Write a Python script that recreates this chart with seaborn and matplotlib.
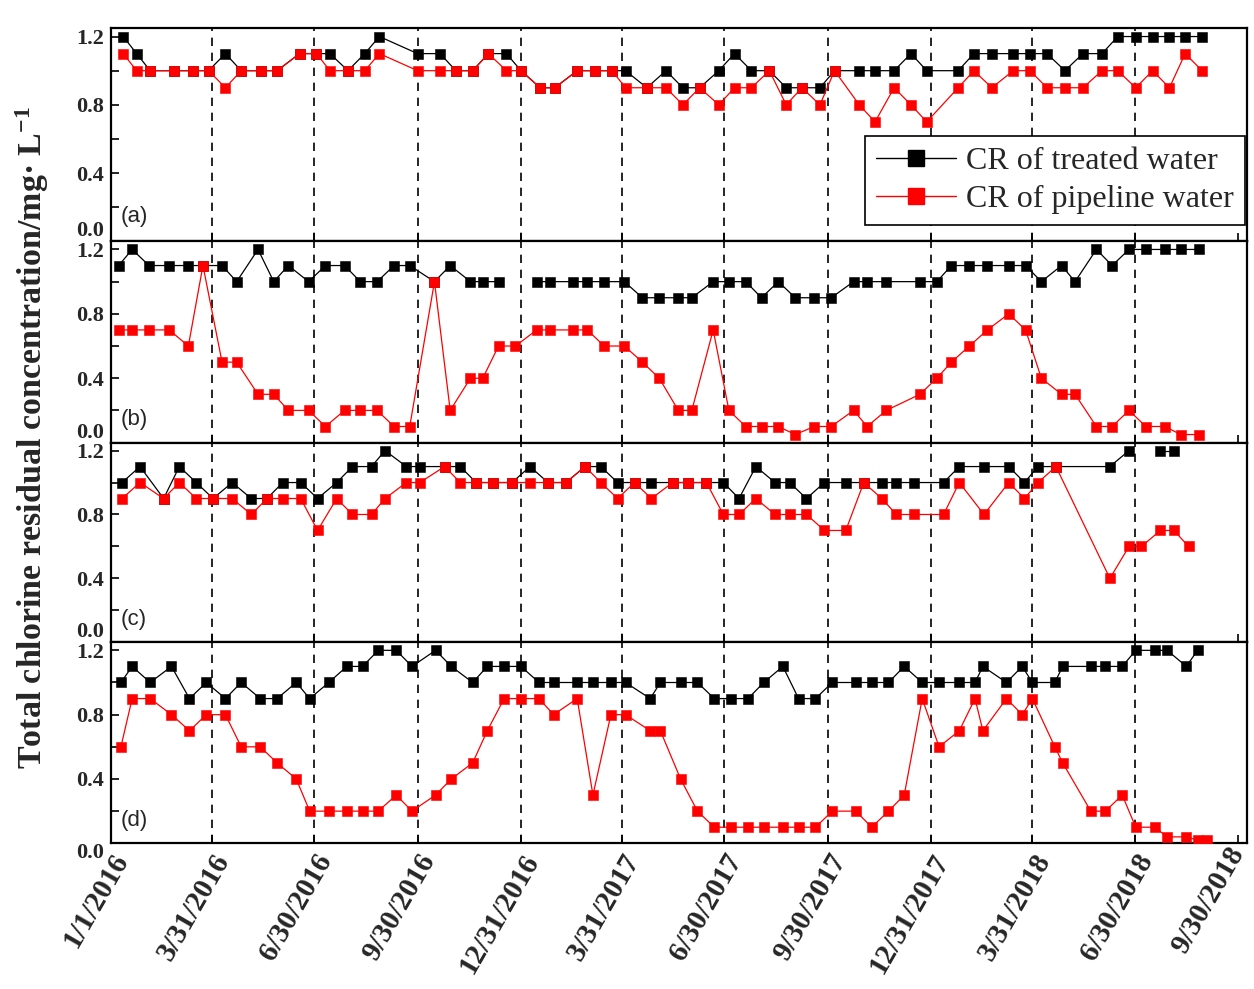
import numpy as np
import pandas as pd
import matplotlib
matplotlib.use('Agg')
import matplotlib.pyplot as plt
from matplotlib.lines import Line2D
from matplotlib.ticker import FormatStrFormatter
import seaborn as sns

# ---------------- data (days since 1/1/2016, values in mg/L) ----------------
start_date = '2016-01-01'
series_names = ['CR of treated water', 'CR of pipeline water']
panel_tags = ['(a)', '(b)', '(c)', '(d)']
tick_labels = ['1/1/2016', '3/31/2016', '6/30/2016', '9/30/2016', '12/31/2016',
               '3/31/2017', '6/30/2017', '9/30/2017', '12/31/2017', '3/31/2018',
               '6/30/2018', '9/30/2018']
nan = np.nan

days_a = [11, 23, 35, 56, 73, 87, 102, 116, 134, 148, 168, 183, 195, 211, 226, 239, 273, 293, 307, 322,
          336, 352, 365, 382, 395, 415, 431, 446, 458, 477, 494, 509, 524, 541, 555, 570, 586, 601, 615, 631,
          644, 666, 680, 697, 712, 726, 754, 768, 784, 803, 818, 833, 849, 865, 882, 896, 912, 927, 942, 956, 971]
treated_a = [1.2, 1.1, 1.0, 1.0, 1.0, 1.0, 1.1, 1.0, 1.0, 1.0, 1.1, 1.1, 1.1, 1.0, 1.1, 1.2, 1.1, 1.1, 1.0, 1.0,
             1.1, 1.1, 1.0, 0.9, 0.9, 1.0, 1.0, 1.0, 1.0, 0.9, 1.0, 0.9, 0.9, 1.0, 1.1, 1.0, 1.0, 0.9, 0.9, 0.9,
             1.0, 1.0, 1.0, 1.0, 1.1, 1.0, 1.0, 1.1, 1.1, 1.1, 1.1, 1.1, 1.0, 1.1, 1.1, 1.2, 1.2, 1.2, 1.2, 1.2, 1.2]
pipe_a = [1.1, 1.0, 1.0, 1.0, 1.0, 1.0, 0.9, 1.0, 1.0, 1.0, 1.1, 1.1, 1.0, 1.0, 1.0, 1.1, 1.0, 1.0, 1.0, 1.0,
          1.1, 1.0, 1.0, 0.9, 0.9, 1.0, 1.0, 1.0, 0.9, 0.9, 0.9, 0.8, 0.9, 0.8, 0.9, 0.9, 1.0, 0.8, 0.9, 0.8,
          1.0, 0.8, 0.7, 0.9, 0.8, 0.7, 0.9, 1.0, 0.9, 1.0, 1.0, 0.9, 0.9, 0.9, 1.0, 1.0, 0.9, 1.0, 0.9, 1.1, 1.0]

days_b = [7, 19, 34, 52, 69, 82, 99, 112, 131, 145, 158, 176, 191, 208, 222, 237, 252, 266, 288, 302,
          320, 331, 345, 360, 379, 391, 411, 424, 439, 457, 473, 488, 505, 517, 536, 550, 565, 579, 594, 609,
          626, 641, 661, 673, 690, 720, 735, 748, 764, 780, 799, 814, 828, 846, 858, 877, 891, 906, 921, 938,
          952, 968]
treated_b = [1.1, 1.2, 1.1, 1.1, 1.1, 1.1, 1.1, 1.0, 1.2, 1.0, 1.1, 1.0, 1.1, 1.1, 1.0, 1.0, 1.1, 1.1, 1.0, 1.1,
             1.0, 1.0, 1.0, nan, 1.0, 1.0, 1.0, 1.0, 1.0, 1.0, 0.9, 0.9, 0.9, 0.9, 1.0, 1.0, 1.0, 0.9, 1.0, 0.9,
             0.9, 0.9, 1.0, 1.0, 1.0, 1.0, 1.0, 1.1, 1.1, 1.1, 1.1, 1.1, 1.0, 1.1, 1.0, 1.2, 1.1, 1.2, 1.2, 1.2,
             1.2, 1.2]
pipe_b = [0.7, 0.7, 0.7, 0.7, 0.6, 1.1, 0.5, 0.5, 0.3, 0.3, 0.2, 0.2, 0.1, 0.2, 0.2, 0.2, 0.1, 0.1, 1.0, 0.2,
          0.4, 0.4, 0.6, 0.6, 0.7, 0.7, 0.7, 0.7, 0.6, 0.6, 0.5, 0.4, 0.2, 0.2, 0.7, 0.2, 0.1, 0.1, 0.1, 0.05,
          0.1, 0.1, 0.2, 0.1, 0.2, 0.3, 0.4, 0.5, 0.6, 0.7, 0.8, 0.7, 0.4, 0.3, 0.3, 0.1, 0.1, 0.2, 0.1, 0.1,
          0.05, 0.05]

days_c = [10, 26, 47, 61, 76, 91, 108, 125, 139, 153, 169, 184, 201, 215, 232, 244, 263, 275, 297, 311,
          325, 340, 357, 373, 389, 405, 422, 436, 451, 466, 481, 500, 514, 530, 545, 559, 574, 591, 604, 619,
          635, 654, 670, 686, 699, 715, 741, 755, 777, 799, 813, 825, 841, 889, 906, 917, 934, 946, 959]
treated_c = [1.0, 1.1, 0.9, 1.1, 1.0, 0.9, 1.0, 0.9, 0.9, 1.0, 1.0, 0.9, 1.0, 1.1, 1.1, 1.2, 1.1, 1.1, 1.1, 1.1,
             1.0, 1.0, 1.0, 1.1, 1.0, 1.0, 1.1, 1.1, 1.0, 1.0, 1.0, 1.0, 1.0, 1.0, 1.0, 0.9, 1.1, 1.0, 1.0, 0.9,
             1.0, 1.0, 1.0, 1.0, 1.0, 1.0, 1.0, 1.1, 1.1, 1.1, 1.0, 1.1, 1.1, 1.1, 1.2, nan, 1.2, 1.2, nan]
pipe_c = [0.9, 1.0, 0.9, 1.0, 0.9, 0.9, 0.9, 0.8, 0.9, 0.9, 0.9, 0.7, 0.9, 0.8, 0.8, 0.9, 1.0, 1.0, 1.1, 1.0,
          1.0, 1.0, 1.0, 1.0, 1.0, 1.0, 1.1, 1.0, 0.9, 1.0, 0.9, 1.0, 1.0, 1.0, 0.8, 0.8, 0.9, 0.8, 0.8, 0.8,
          0.7, 0.7, 1.0, 0.9, 0.8, 0.8, 0.8, 1.0, 0.8, 1.0, 0.9, 1.0, 1.1, 0.4, 0.6, 0.6, 0.7, 0.7, 0.6]

days_d = [9, 19, 35, 54, 70, 85, 102, 116, 133, 148, 165, 177, 194, 210, 224, 238, 254, 268, 289, 303,
          322, 335, 350, 365, 381, 394, 415, 429, 445, 458, 480, 489, 507, 522, 537, 552, 567, 581, 598, 612,
          627, 642, 663, 677, 692, 706, 722, 737, 755, 769, 776, 797, 811, 820, 840, 847, 872, 885, 900, 912,
          929, 940, 957, 967, 975]
treated_d = [1.0, 1.1, 1.0, 1.1, 0.9, 1.0, 0.9, 1.0, 0.9, 0.9, 1.0, 0.9, 1.0, 1.1, 1.1, 1.2, 1.2, 1.1, 1.2, 1.1,
             1.0, 1.1, 1.1, 1.1, 1.0, 1.0, 1.0, 1.0, 1.0, 1.0, 0.9, 1.0, 1.0, 1.0, 0.9, 0.9, 0.9, 1.0, 1.1, 0.9,
             0.9, 1.0, 1.0, 1.0, 1.0, 1.1, 1.0, 1.0, 1.0, 1.0, 1.1, 1.0, 1.1, 1.0, 1.0, 1.1, 1.1, 1.1, 1.1, 1.2,
             1.2, 1.2, 1.1, 1.2, nan]
pipe_d = [0.6, 0.9, 0.9, 0.8, 0.7, 0.8, 0.8, 0.6, 0.6, 0.5, 0.4, 0.2, 0.2, 0.2, 0.2, 0.2, 0.3, 0.2, 0.3, 0.4,
          0.5, 0.7, 0.9, 0.9, 0.9, 0.8, 0.9, 0.3, 0.8, 0.8, 0.7, 0.7, 0.4, 0.2, 0.1, 0.1, 0.1, 0.1, 0.1, 0.1,
          0.1, 0.2, 0.2, 0.1, 0.2, 0.3, 0.9, 0.6, 0.7, 0.9, 0.7, 0.9, 0.8, 0.9, 0.6, 0.5, 0.2, 0.2, 0.3, 0.1,
          0.1, 0.04, 0.04, 0.02, 0.02]

panels = [(days_a, treated_a, pipe_a), (days_b, treated_b, pipe_b),
          (days_c, treated_c, pipe_c), (days_d, treated_d, pipe_d)]

# ---------------- style ----------------
sns.set_theme(style='white')
plt.rcParams['font.family'] = ['Liberation Serif', 'DejaVu Sans']
plt.rcParams['mathtext.fontset'] = 'custom'
plt.rcParams['mathtext.rm'] = 'Liberation Serif:bold'
plt.rcParams['mathtext.it'] = 'Liberation Serif:bold'
plt.rcParams['mathtext.bf'] = 'Liberation Serif:bold'
plt.rcParams['mathtext.default'] = 'rm'

W, H = 1254, 989
fig = plt.figure(figsize=(W / 100, H / 100), dpi=100)
left_px, right_px = 110.8, 1247.0
rows = [(28.0, 241.4), (241.4, 442.6), (442.6, 642.3), (642.3, 843.3)]

t0 = pd.Timestamp(start_date)
tick_dates = pd.to_datetime(tick_labels, format='%m/%d/%Y')
x_end = t0 + pd.Timedelta(days=1011)
colors = ['black', '#ff0000']

axes = []
for i, ((top, bot), (days, tr, pp)) in enumerate(zip(rows, panels)):
    ax = fig.add_axes([left_px / W, 1 - bot / H, (right_px - left_px) / W, (bot - top) / H])
    axes.append(ax)
    dates = t0 + pd.to_timedelta(np.array(days), unit='D')
    for d in tick_dates[1:-1]:
        ax.axvline(d, color='black', lw=1.2, ls=(0, (5, 4)), zorder=1)
    for vals, col in zip([tr, pp], colors):
        v = np.array(vals, dtype=float)
        df = pd.DataFrame({'date': dates, 'value': v})
        df['seg'] = np.cumsum(np.isnan(v))
        df = df.dropna()
        sns.lineplot(data=df, x='date', y='value', units='seg', estimator=None, sort=False,
                     color=col, lw=0.9, marker='s', markersize=6.5, markeredgewidth=0.4,
                     markeredgecolor=col, legend=False, ax=ax, zorder=3)
    ax.set_xlim(t0, x_end)
    ax.set_ylim(0, 1.25)
    ax.set_xlabel('')
    ax.set_ylabel('')
    ax.set_yticks([0.0, 0.4, 0.8, 1.2])
    ax.set_yticks([0.2, 0.6, 1.0], minor=True)
    ax.yaxis.set_major_formatter(FormatStrFormatter('%.1f'))
    ax.set_xticks(tick_dates)
    ax.tick_params(axis='both', which='both', direction='in', length=6, width=1.2,
                   color='black', left=True, bottom=True)
    ax.tick_params(axis='y', pad=5)
    ax.tick_params(axis='x', pad=4)
    ylabels = ax.get_yticklabels()
    plt.setp(ylabels, fontsize=16, fontweight='bold')
    if i < 3:
        ylabels[0].set_verticalalignment('bottom')
        ax.set_xticklabels([])
    else:
        ylabels[0].set_verticalalignment('top')
        xl = ax.set_xticklabels(tick_labels, rotation=60, ha='right', va='top',
                                rotation_mode='anchor', fontsize=21, fontweight='bold')
        xl[-1].set_verticalalignment('center')
    for s in ax.spines.values():
        s.set_linewidth(1.6)
        s.set_color('black')
    ax.text(0.009, 0.115, panel_tags[i], transform=ax.transAxes, fontsize=16,
            family=['Liberation Sans', 'DejaVu Sans'], ha='left', va='center')

handles = [Line2D([], [], color=c, lw=1.0, marker='s', markersize=11) for c in colors]
leg = axes[0].legend(handles, series_names, loc='lower right', bbox_to_anchor=(0.998, 0.077),
                     borderaxespad=0, frameon=True, fancybox=False, edgecolor='black', framealpha=1,
                     prop={'family': 'Liberation Serif', 'size': 23}, handlelength=2.5,
                     handletextpad=0.3, borderpad=0.35, labelspacing=0.25)
leg.get_frame().set_linewidth(1.2)

fig.text(0.026, 0.558, 'Total chlorine residual concentration/mg\u00b7 L$^{-1}$', rotation=90,
         fontsize=24.5, fontweight='bold', ha='center', va='center')

fig.savefig('out.png', dpi=100)
